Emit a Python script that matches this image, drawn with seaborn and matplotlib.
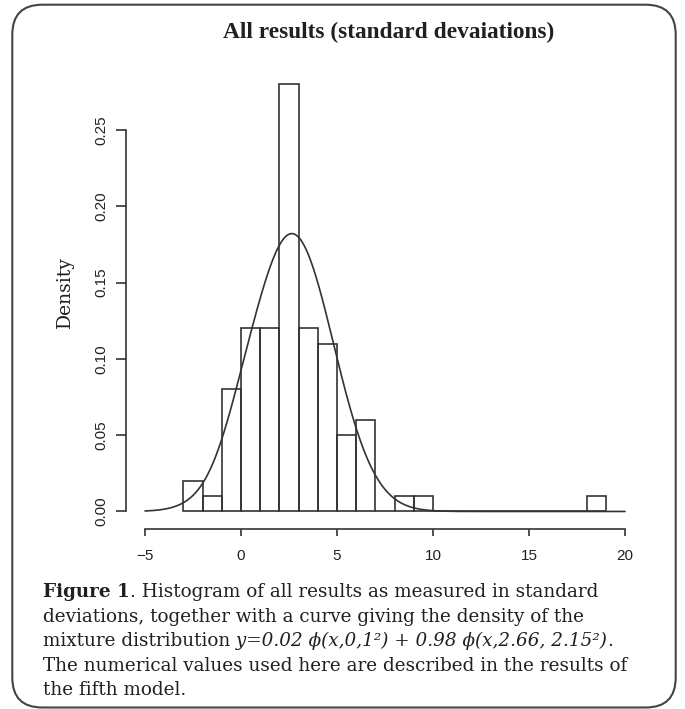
import numpy as np
import pandas as pd
import matplotlib
matplotlib.use("Agg")
import matplotlib.pyplot as plt
import seaborn as sns
from matplotlib.patches import FancyBboxPatch

# histogram: unit-width bins and their densities
bin_left = [-3, -2, -1, 0, 1, 2, 3, 4, 5, 6, 7, 8, 9, 10, 11, 12, 13, 14, 15, 16, 17, 18]
bin_density = [0.02, 0.01, 0.08, 0.12, 0.12, 0.28, 0.12, 0.11, 0.05, 0.06, 0.00,
               0.01, 0.01, 0.00, 0.00, 0.00, 0.00, 0.00, 0.00, 0.00, 0.00, 0.01]

# mixture model given in the caption
mix_weights = [0.02, 0.98]
mix_means = [0.0, 2.66]
mix_sds = [1.0, 2.15]
curve_range = [-5, 20]

x_ticks = [-5, 0, 5, 10, 15, 20]
x_tick_labels = ["\u22125", "0", "5", "10", "15", "20"]
y_ticks = [0.00, 0.05, 0.10, 0.15, 0.20, 0.25]
y_tick_labels = ["0.00", "0.05", "0.10", "0.15", "0.20", "0.25"]

title = "All results (standard devaiations)"
caption = [
    [("Figure 1", "bold"), (". Histogram of all results as measured in standard", "normal")],
    [("deviations, together with a curve giving the density of the", "normal")],
    [("mixture distribution", "normal"),
     (" y=0.02 \u03d5(x,0,1\u00b2) + 0.98 \u03d5(x,2.66, 2.15\u00b2)", "italic"),
     (".", "normal")],
    [("The numerical values used here are described in the results of", "normal")],
    [("the fifth model.", "normal")],
]

sns.set_style("ticks")
plt.rcParams["font.family"] = ["Liberation Sans", "DejaVu Sans"]

line_col = "#333333"
text_col = "#231f20"

hist_df = pd.DataFrame({"mid": [b + 0.5 for b in bin_left], "dens": bin_density})
bin_edges = bin_left + [bin_left[-1] + 1]
xs = np.linspace(curve_range[0], curve_range[1], 600)
ys = np.zeros_like(xs)
for w, m, s in zip(mix_weights, mix_means, mix_sds):
    ys += w * np.exp(-0.5 * ((xs - m) / s) ** 2) / (s * np.sqrt(2 * np.pi))
curve_df = pd.DataFrame({"x": xs, "y": ys})

fig = plt.figure(figsize=(6.85, 7.09), dpi=100)
ax = fig.add_axes([0.1837, 0.2545, 0.7568, 0.6509])

sns.histplot(hist_df, x="mid", weights="dens", bins=bin_edges,
             stat="count", fill=False, color=line_col, linewidth=1.2, ax=ax)
sns.lineplot(curve_df, x="x", y="y", color=line_col, linewidth=1.2, ax=ax)

ax.set_xlim(-6, 21)
ax.set_ylim(-0.0112, 0.2912)
ax.set_xticks(x_ticks)
ax.set_xticklabels(x_tick_labels)
ax.set_yticks(y_ticks)
ax.set_yticklabels(y_tick_labels, rotation=90, va="center")
ax.set(xlabel="", ylabel="")
for side in ["top", "right"]:
    ax.spines[side].set_visible(False)
ax.spines["left"].set_bounds(0, 0.25)
ax.spines["bottom"].set_bounds(-5, 20)
for side in ["left", "bottom"]:
    ax.spines[side].set_linewidth(1.2)
    ax.spines[side].set_color(line_col)
ax.tick_params(axis="y", length=7.2, width=1.2, pad=5.5, labelsize=11,
               color=line_col, labelcolor="#222222")
ax.tick_params(axis="x", length=5, width=1.2, pad=9.5, labelsize=11,
               color=line_col, labelcolor="#222222")

serif = ["Liberation Serif", "DejaVu Serif"]
wide_serif = ["DejaVu Serif"]
fig.text(389 / 685, 1 - 38 / 709, title, ha="center", va="baseline",
         family=serif, fontweight="bold", fontsize=16.8, color=text_col)
fig.text(65 / 685, 1 - 292 / 709, "Density", ha="center", va="center",
         rotation=90, family=wide_serif, fontsize=13.5, color=text_col)

# caption, placed run by run so bold/italic parts sit inline
renderer = fig.canvas.get_renderer()
base_y = 597
for i, runs in enumerate(caption):
    x = 43 / 685
    y = 1 - (base_y + i * 24.6) / 709
    for txt, style in runs:
        t = fig.text(x, y, txt, ha="left", va="baseline", family=wide_serif, fontsize=13.2,
                     color=text_col,
                     fontweight="bold" if style == "bold" else "normal",
                     fontstyle="italic" if style == "italic" else "normal")
        x += t.get_window_extent(renderer).width / fig.bbox.width

# rounded frame round the whole figure
frame = FancyBboxPatch((0.123, 0.015), 6.634, 7.028,
                       boxstyle="round,pad=0,rounding_size=0.3",
                       transform=fig.dpi_scale_trans, fill=False,
                       linewidth=1.5, edgecolor="#444444")
fig.add_artist(frame)

fig.savefig("out.png", dpi=100)
